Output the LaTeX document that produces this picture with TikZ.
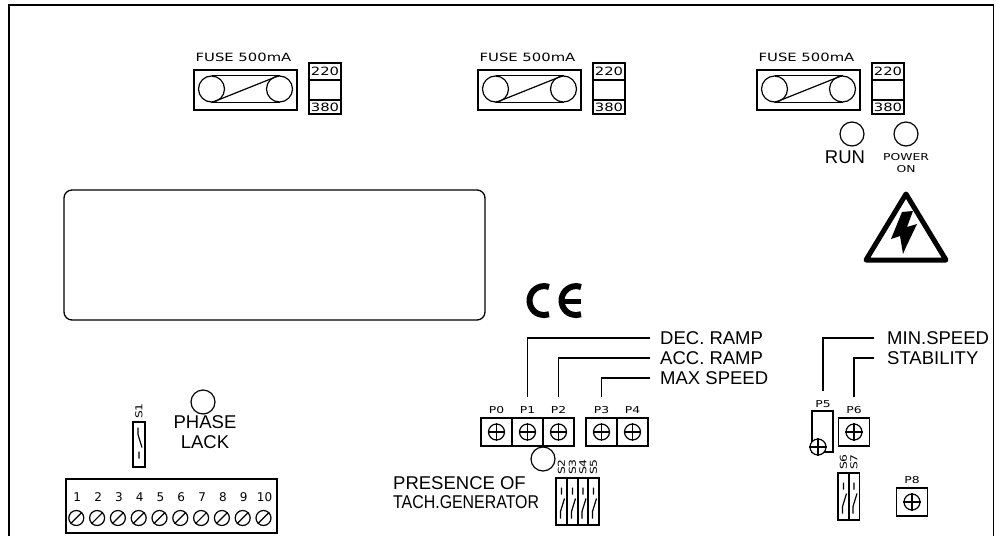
\documentclass[tikz,border=0pt]{standalone}
\usepackage{fontspec}
\setmainfont{Liberation Sans}
\newfontfamily\techfont[FakeStretch=1.3]{DejaVu Sans}
\newfontfamily\plainfont{DejaVu Sans}
\newfontfamily\tightfont[FakeStretch=0.86]{Liberation Sans}
\usetikzlibrary{calc}
\tikzset{
    part/.style={draw, line width=1.4pt, rectangle, inner sep=0pt},
    lamp/.style={draw, line width=1.2pt, circle, inner sep=0pt, minimum size=24pt},
    big/.style={font=\fontsize{18.5}{20}\selectfont, inner sep=0pt},
    tech/.style={font=\techfont\fontsize{11.4}{13}\selectfont, inner sep=0pt},
    tiny/.style={font=\techfont\fontsize{9.5}{11}\selectfont, inner sep=0pt},
    potname/.style={tiny, minimum height=26pt},
    pot/.style={part, minimum width=31pt, minimum height=28pt},
    knob/.style={draw, line width=1.2pt, circle, inner sep=0pt, minimum size=16pt},
    sw/.style={part, minimum width=11pt, minimum height=47pt},
    swname/.style={tiny, rotate=90},
    fusering/.style={draw, line width=1.2pt, circle, inner sep=0pt, minimum size=26pt},
    lead/.style={line width=1.3pt},
    thin/.style={line width=1.2pt},
}
\newcommand{\swmark}[2]{
    \draw[thin, shift={(#1)}, yscale=#2] (0, -14) -- (0, -7) (3, -3) -- (-1, 10) -- (-1, 17);
}
\begin{document}
\begin{tikzpicture}[x=1pt, y=-1pt]
    \useasboundingbox (0, 0) rectangle (996, 536);
    \draw[line width=1.6pt] (9, 536) -- (9, 5) -- (993.5, 5) -- (993.5, 536);

    \foreach \n/\dx in {a/0, b/284, c/563} {
        \node[part, minimum width=103pt, minimum height=40pt] (fuse\n) at (245.5+\dx, 90) {};
        \node[tech] (fusetext\n) at ($(fuse\n) + (-2, -33)$) {FUSE 500mA};
        \node[fusering] (left\n) at ($(fuse\n) + (-34, -1)$) {};
        \node[fusering] (right\n) at ($(fuse\n) + (34, -1)$) {};
        \draw[thin] (left\n.north) -- (right\n.north);
        \draw[thin] (left\n.south) -- (right\n.south);
        \draw[thin] (left\n.south) -- (right\n.north);
        \node[part, minimum width=32pt, minimum height=17pt, tech] (volta\n) at ($(fuse\n) + (79.5, -18.5)$) {220};
        \node[part, minimum width=32pt, minimum height=20pt] (voltb\n) at ($(volta\n) + (0, 18.5)$) {};
        \node[part, minimum width=32pt, minimum height=14pt, tech] (voltc\n) at ($(voltb\n) + (0, 17)$) {380};
    }

    \node[lamp] (run) at (852, 134) {};
    \node[lamp] (power) at (906, 134) {};
    \node[big] (runtext) at (845, 157) {RUN};
    \node[tiny, align=center] (powertext) at (906, 163) {POWER\\[1pt]ON};

    \draw[line width=5pt, line join=round] (906, 194) -- (946, 260) -- (866, 260) -- cycle;
    \fill (902, 212) -- (913, 211) -- (907, 227) -- (917, 224) -- (906, 247) -- (903, 254) -- (900, 236) -- (891, 239) -- cycle;

    \node[draw, line width=1.3pt, rounded corners=8pt, minimum width=421pt, minimum height=130pt] (display) at (274.5, 255) {};

    \draw[line width=6pt] (549, 287) arc[start angle=70, end angle=290, radius=14.5pt];
    \draw[line width=6pt] (581, 287) arc[start angle=70, end angle=290, radius=14.5pt];
    \draw[line width=4.5pt] (561, 301.5) -- (581, 301.5);

    \node[big, anchor=west, inner xsep=10pt] (dec) at (650, 338) {DEC. RAMP};
    \node[big, anchor=west, inner xsep=10pt] (acc) at (650, 358) {ACC. RAMP};
    \node[big, anchor=west, inner xsep=10pt] (max) at (650, 378) {MAX SPEED};
    \node[big, anchor=west, inner xsep=13pt] (min) at (874, 338) {MIN.SPEED};
    \node[big, anchor=west, inner xsep=13pt] (stab) at (874, 358) {STABILITY};

    \foreach \n/\x/\y in {0/496.5/432, 1/527.5/432, 2/558.5/432, 3/601.5/432, 4/632.5/432, 6/854/432, 8/912/502} {
        \node[pot] (pot\n) at (\x, \y) {};
        \node[knob] (knob\n) at (pot\n) {};
        \draw[thin] (knob\n.north) -- (knob\n.south);
        \draw[thin] (knob\n.west) -- (knob\n.east);
        \node[potname] (name\n) at ($(pot\n) + (0, -22)$) {P\n};
    }
    \node[part, minimum width=21pt, minimum height=41pt] (pot5) at (822.5, 431.5) {};
    \node[knob, fill=white] (knob5) at ($(pot5) + (-4.5, 15.5)$) {};
    \draw[thin] (knob5.north) -- (knob5.south);
    \draw[thin] (knob5.west) -- (knob5.east);
    \node[potname] (name5) at (823, 404) {P5};

    \draw[lead] (name1.north) |- (dec.west);
    \draw[lead] (name2.north) |- (acc.west);
    \draw[lead] (name3.north) |- (max.west);
    \draw[lead] (name5.north) |- (min.west);
    \draw[lead] (name6.north) |- (stab.west);

    \node[lamp] (tach) at (543, 459) {};
    \node[big, anchor=west] (presence) at (393, 483) {PRESENCE OF};
    \node[big, anchor=west, font=\tightfont\fontsize{18.5}{20}\selectfont] (generator) at (393, 502) {TACH.GENERATOR};
    \foreach \n/\x/\y in {2/561.5/501.5, 3/572.5/501.5, 4/583/501.5, 5/593.5/501.5, 6/843.5/496.5, 7/854/496.5} {
        \node[sw] (sw\n) at (\x, \y) {};
        \node[swname] (swname\n) at ($(sw\n) + (0, -34.5)$) {S\n};
        \swmark{sw\n}{1}
    }

    \node[lamp] (phase) at (203, 402) {};
    \node[big, align=center] (phasetext) at (205, 432.5) {PHASE\\LACK};
    \node[part, minimum width=12pt, minimum height=45pt] (sw1) at (139, 444.5) {};
    \node[swname] (swname1) at ($(sw1) + (0, -33.5)$) {S1};
    \swmark{sw1}{-1}

    \node[part, minimum width=211pt, minimum height=54pt] (terminal) at (171.5, 506) {};
    \foreach \n in {1,...,10} {
        \node[font=\plainfont\fontsize{12}{14}\selectfont, inner sep=0pt] (num\n) at (56.5+20.8*\n, 497) {\n};
        \node[draw, thin, circle, inner sep=0pt, minimum size=15pt] (screw\n) at (55.5+20.8*\n, 518) {};
        \draw[thin] (screw\n.225) -- (screw\n.45);
    }
\end{tikzpicture}
\end{document}
